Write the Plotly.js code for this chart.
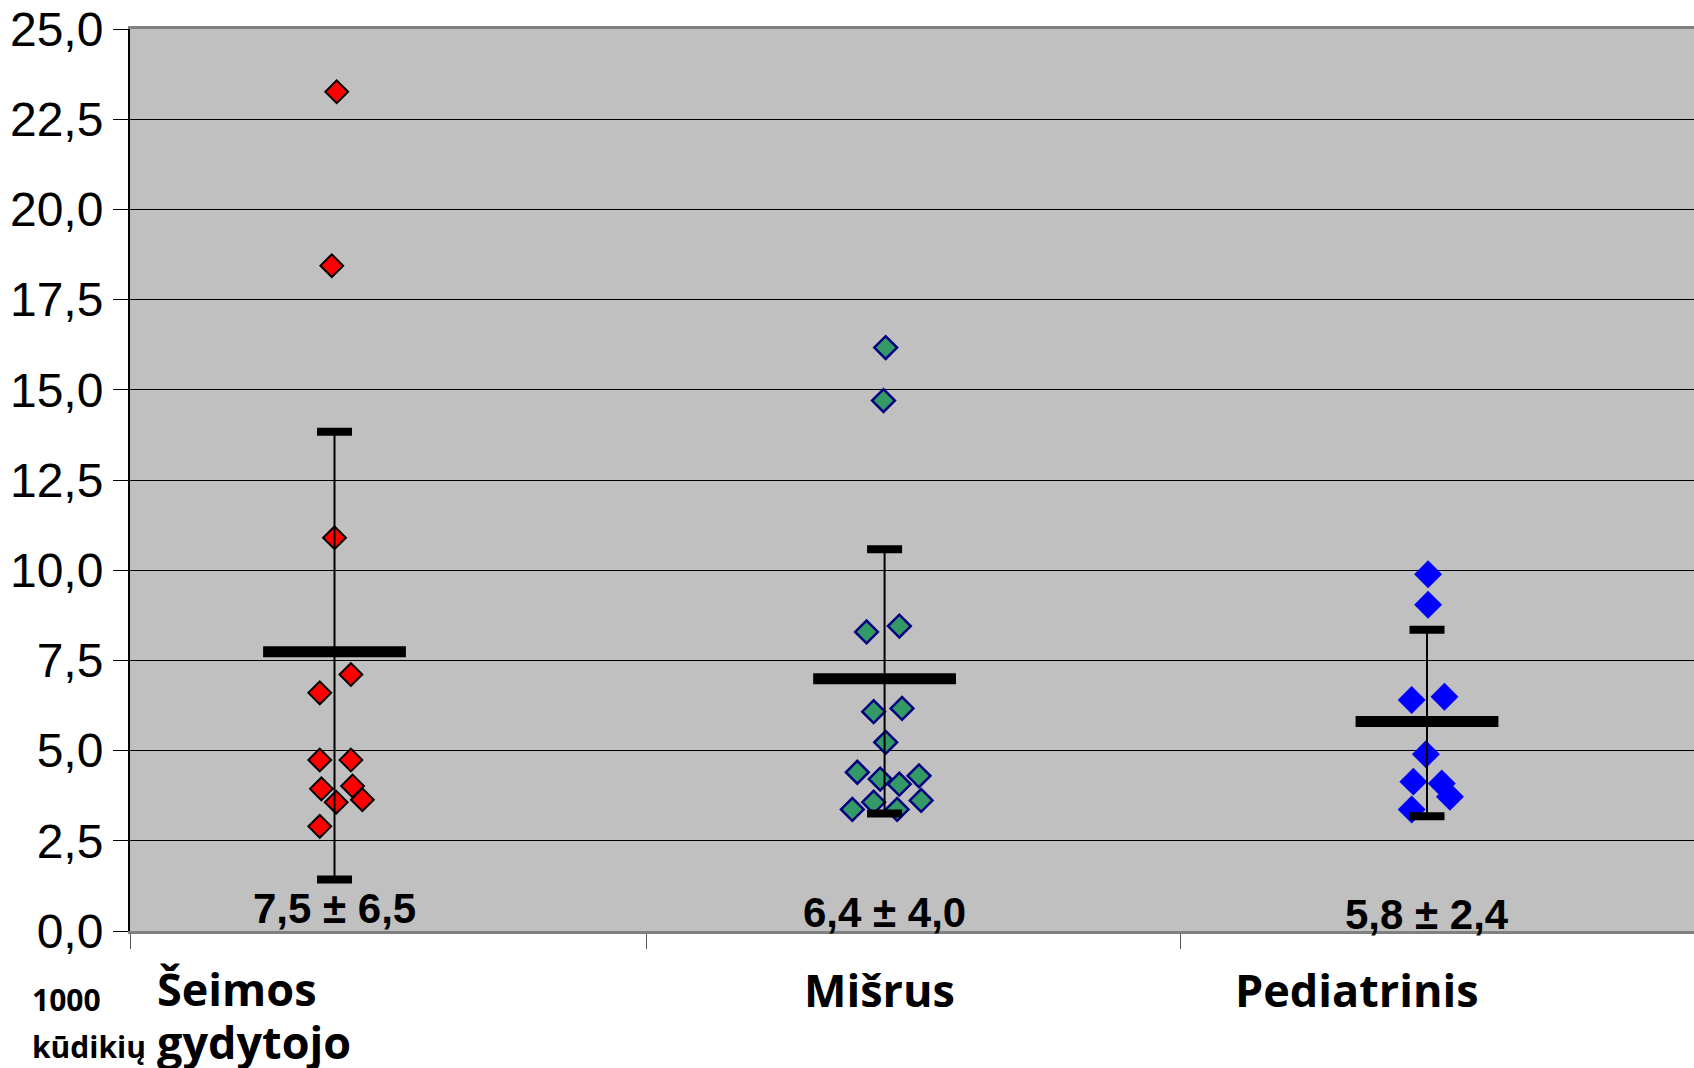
<!DOCTYPE html>
<html>
<head>
<meta charset="utf-8">
<script src="https://cdn.plot.ly/plotly-3.0.1.min.js"></script>
<style>
html,body{margin:0;padding:0;background:#fff;}
#chart{width:1694px;height:1068px;}
</style>
</head>
<body>
<div id="chart"></div>
<script>
// ---- data ----
const categories = ['Šeimos\ngydytojo', 'Mišrus', 'Pediatrinis'];
const groupX = [1, 2.007, 3];
const summaryLabels = ['7,5 ± 6,5', '6,4 ± 4,0', '5,8 ± 2,4'];
const means = [7.74, 6.99, 5.81];
const sdPlus = [6.10, 3.59, 2.54];
const sdMinus = [6.31, 3.73, 2.63];

const seimosValues = [23.26, 18.44, 10.90, 7.11, 6.60, 4.74, 4.74, 3.94, 4.02, 3.57, 3.64, 2.90];
const seimosJitter = [0.004, -0.005, 0, 0.030, -0.027, -0.027, 0.030, -0.024, 0.033, 0.003, 0.051, -0.027];

const misrusValues = [16.17, 14.70, 8.29, 8.45, 6.08, 6.17, 5.23, 4.40, 4.21, 4.30, 4.07, 3.62, 3.57, 3.37, 3.37];
const misrusJitter = [0.002, -0.002, -0.033, 0.027, -0.020, 0.032, 0.002, -0.050, -0.008, 0.063, 0.027, 0.067, -0.020, -0.059, 0.023];

const pediatrinisValues = [9.89, 9.04, 6.40, 6.49, 4.90, 4.14, 4.09, 3.72, 3.37];
const pediatrinisJitter = [0.002, 0.002, -0.028, 0.032, -0.002, -0.025, 0.027, 0.042, -0.028];

const yTickVals = [0, 2.5, 5, 7.5, 10, 12.5, 15, 17.5, 20, 22.5, 25];
const unitLabel = ['1000', 'kūdikių'];

// ---- styles / layout positions ----
const groupStyles = [
  {color: '#FF0000', size: 17.5, line: {color: '#000000', width: 2}},
  {color: '#339966', size: 17.5, line: {color: '#000080', width: 2.5}},
  {color: '#0000FF', size: 21.5, line: {color: '#0000FF', width: 0}}
];
const groupValues = [seimosValues, misrusValues, pediatrinisValues];
const groupJitter = [seimosJitter, misrusJitter, pediatrinisJitter];

const xRange = [0.6256, 3.4888];
const xTicks = [0.6256, 1.5715, 2.549];

const traces = [];
groupValues.forEach(function (vals, g) {
  traces.push({
    type: 'scatter', mode: 'markers',
    x: vals.map(function (v, i) { return groupX[g] + groupJitter[g][i]; }),
    y: vals,
    marker: {symbol: 'diamond', size: groupStyles[g].size, color: groupStyles[g].color, line: groupStyles[g].line},
    hoverinfo: 'y', cliponaxis: false
  });
});

// vertical error lines + mean bars
traces.push({
  type: 'scatter', mode: 'markers',
  x: groupX, y: means,
  marker: {symbol: 'line-ew', size: 102, color: '#000', line: {color: '#000', width: 11}},
  error_y: {type: 'data', symmetric: false, array: sdPlus, arrayminus: sdMinus, width: 0, thickness: 2, color: '#000'},
  hoverinfo: 'y'
});
// caps
traces.push({
  type: 'scatter', mode: 'markers',
  x: groupX.concat(groupX),
  y: means.map(function (m, i) { return m + sdPlus[i]; }).concat(means.map(function (m, i) { return m - sdMinus[i]; })),
  marker: {symbol: 'line-ew', size: 25, color: '#000', line: {color: '#000', width: 8}},
  hoverinfo: 'y'
});

const annotations = [];
const summaryY = [0.61, 0.51, 0.47];
summaryLabels.forEach(function (t, g) {
  annotations.push({
    text: t, x: groupX[g], y: summaryY[g], xref: 'x', yref: 'y',
    xanchor: 'center', yanchor: 'middle', showarrow: false,
    font: {family: 'Liberation Sans, Arial, sans-serif', size: 42, color: '#000', weight: 'bold'}
  });
});

const catPos = [
  {x: 0.016, anchor: 'left', ys: [-0.0643, -0.122]},
  {x: 0.479, anchor: 'center', ys: [-0.0654]},
  {x: 0.7845, anchor: 'center', ys: [-0.0654]}
];
categories.forEach(function (c, g) {
  c.split('\n').forEach(function (line, k) {
    annotations.push({
      text: line, x: catPos[g].x, y: catPos[g].ys[k], xref: 'paper', yref: 'paper',
      xanchor: catPos[g].anchor, yanchor: 'middle', showarrow: false,
      font: {family: 'Open Sans, Noto Sans, sans-serif', size: 45, color: '#000', weight: 'bold'}
    });
  });
});
const unitYs = [-0.0754, -0.1275];
unitLabel.forEach(function (t, k) {
  annotations.push({
    text: t, x: -0.0639, y: unitYs[k], xref: 'paper', yref: 'paper',
    xanchor: 'left', yanchor: 'middle', showarrow: false,
    font: {family: 'Open Sans, Noto Sans, sans-serif', size: 30, color: '#000', weight: 'bold'}
  });
});

const layout = {
  width: 1694, height: 1068,
  margin: {l: 130, r: 0, t: 29, b: 137, pad: 0},
  paper_bgcolor: '#ffffff', plot_bgcolor: '#C0C0C0',
  separators: ', ',
  showlegend: false,
  xaxis: {
    range: xRange, tickvals: xTicks, ticks: 'outside', ticklen: 15, tickcolor: '#555', tickwidth: 1,
    showticklabels: false, showgrid: false, zeroline: false,
    showline: true, linecolor: '#808080', linewidth: 3, mirror: true
  },
  yaxis: {
    range: [0, 25], tickvals: yTickVals, tickformat: '.1f',
    ticks: 'outside', ticklen: 15, tickcolor: '#000', tickwidth: 1,
    showgrid: true, gridcolor: '#000', gridwidth: 1, zeroline: false,
    showline: true, linecolor: '#000', linewidth: 2,
    tickfont: {family: 'Liberation Sans, Arial, sans-serif', size: 48, color: '#000'}
  },
  annotations: annotations
};

Plotly.newPlot('chart', traces, layout, {displayModeBar: false, staticPlot: true});
</script>
</body>
</html>
